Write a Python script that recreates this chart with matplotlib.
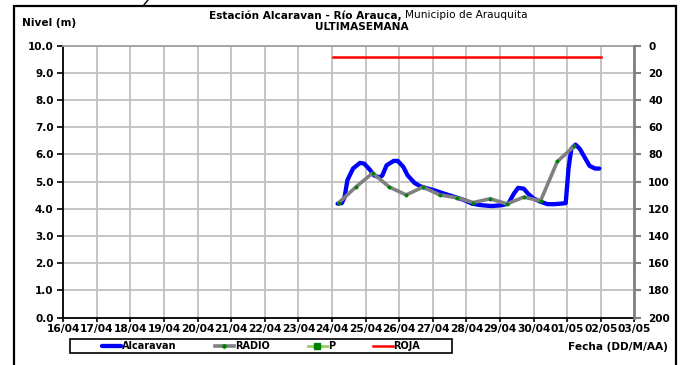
import matplotlib
matplotlib.use("Agg")
import matplotlib.pyplot as plt
import matplotlib.dates as mdates
import pandas as pd
from matplotlib.patches import Rectangle
from matplotlib.lines import Line2D

# Estacion Alcaravan (sensor), nivel en metros
alc_fechas = ["2024-04-24 04:00", "2024-04-24 07:00", "2024-04-24 09:00", "2024-04-24 11:00",
              "2024-04-24 15:00", "2024-04-24 20:00", "2024-04-24 23:00", "2024-04-25 03:00",
              "2024-04-25 06:00", "2024-04-25 10:00", "2024-04-25 12:00", "2024-04-25 15:00",
              "2024-04-25 20:00", "2024-04-25 23:00", "2024-04-26 03:00", "2024-04-26 06:00",
              "2024-04-26 11:00", "2024-04-26 15:00", "2024-04-26 18:00", "2024-04-27 01:00",
              "2024-04-27 08:00", "2024-04-27 16:00", "2024-04-27 23:00", "2024-04-28 04:00",
              "2024-04-28 11:00", "2024-04-28 18:00", "2024-04-29 01:00", "2024-04-29 06:00",
              "2024-04-29 10:00", "2024-04-29 13:00", "2024-04-29 17:00", "2024-04-29 20:00",
              "2024-04-30 00:00", "2024-04-30 05:00", "2024-04-30 10:00", "2024-04-30 15:00",
              "2024-04-30 20:00", "2024-04-30 23:00", "2024-05-01 01:00", "2024-05-01 03:00",
              "2024-05-01 06:00", "2024-05-01 09:00", "2024-05-01 13:00", "2024-05-01 16:00",
              "2024-05-01 20:00", "2024-05-01 23:00"]
alc_nivel = [4.19, 4.21, 4.43, 5.05, 5.48, 5.69, 5.66, 5.44,
             5.23, 5.15, 5.23, 5.60, 5.76, 5.76, 5.54, 5.23,
             4.95, 4.83, 4.78, 4.68, 4.56, 4.43, 4.31, 4.19,
             4.13, 4.10, 4.13, 4.19, 4.56, 4.77, 4.74, 4.56,
             4.38, 4.26, 4.17, 4.17, 4.19, 4.21, 5.48, 6.21,
             6.36, 6.21, 5.85, 5.58, 5.48, 5.48]

# lecturas por radio (6 am / 6 pm aprox)
radio_fechas = ["2024-04-24 05:00", "2024-04-24 17:00", "2024-04-25 05:00", "2024-04-25 17:00",
                "2024-04-26 05:00", "2024-04-26 17:00", "2024-04-27 05:00", "2024-04-27 17:00",
                "2024-04-28 05:00", "2024-04-28 17:00", "2024-04-29 05:00", "2024-04-29 17:00",
                "2024-04-30 05:00", "2024-04-30 17:00", "2024-05-01 05:00"]
radio_nivel = [4.23, 4.80, 5.31, 4.80, 4.51, 4.80, 4.51, 4.41,
               4.23, 4.37, 4.18, 4.43, 4.29, 5.74, 6.30]

p_fechas = []
p_nivel = []

roja_fechas = ["2024-04-24 01:00", "2024-05-02 00:00"]
roja_nivel = [9.6, 9.6]

fechas_lim = ["2024-04-16", "2024-05-03"]

plt.rcParams['font.family'] = ['DejaVu Sans']
plt.rcParams['font.weight'] = 'bold'

W, H = 681, 365
fig = plt.figure(figsize=(W / 100, H / 100), dpi=100)
x0, x1, ytop, ybot = 63.3, 634.3, 45.7, 317.5
ax = fig.add_axes([x0 / W, 1 - ybot / H, (x1 - x0) / W, (ybot - ytop) / H])

ax.plot(pd.to_datetime(alc_fechas), alc_nivel, color='#0000ff', lw=3.1,
        solid_joinstyle='round', solid_capstyle='round', zorder=3, label='Alcaravan')
ax.plot(pd.to_datetime(p_fechas), p_nivel, color='#99cc66', lw=2, marker='s', ms=3,
        mfc='#008000', mec='#008000', zorder=3.5, label='P')
ax.plot(pd.to_datetime(radio_fechas), radio_nivel, color='#808080', lw=2.6,
        marker='o', ms=1.8, mfc='#008000', mec='#008000',
        solid_joinstyle='round', zorder=4, label='RADIO')
ax.plot(pd.to_datetime(roja_fechas), roja_nivel, color='#ff0000', lw=1.8, zorder=5, label='ROJA')

ax.set_xlim(pd.to_datetime(fechas_lim[0]), pd.to_datetime(fechas_lim[1]))
ax.set_ylim(0, 10)
ax.set_yticks(range(0, 11))
ax.yaxis.set_major_formatter(plt.FormatStrFormatter('%.1f'))
ax.xaxis.set_major_locator(mdates.DayLocator())
ax.xaxis.set_major_formatter(mdates.DateFormatter('%d/%m'))
ax.grid(True, color='#c0c0c0', lw=1.3, zorder=0)
ax.set_axisbelow(True)
ax.tick_params(axis='y', direction='out', length=4, width=1.2, labelsize=7.5, pad=3)
ax.tick_params(axis='x', direction='out', length=3, width=1.2, labelsize=7.7, pad=2)
ax.spines['left'].set_linewidth(1.3)
ax.spines['bottom'].set_linewidth(1.3)
ax.spines['top'].set_color('#a0a0a0')
ax.spines['top'].set_linewidth(1.3)
ax.spines['right'].set_visible(False)

ax2 = ax.twinx()
ax2.set_ylim(200, 0)
ax2.set_yticks(range(0, 201, 20))
ax2.tick_params(axis='y', direction='out', length=5, width=1.5, color='#808080',
                labelsize=7.5, pad=5)
for s in ['left', 'top', 'bottom']:
    ax2.spines[s].set_visible(False)
ax2.spines['right'].set_color('#808080')
ax2.spines['right'].set_linewidth(2)

# titulos
fig.text(402 / W, 1 - 15.5 / H, "Estación Alcaravan - Río Arauca,", ha='right', va='center',
         fontsize=7.6, fontweight='bold')
fig.text(405 / W, 1 - 15.5 / H, "Municipio de Arauquita", ha='left', va='center',
         fontsize=7.6, fontweight='normal')
fig.text(362 / W, 1 - 27 / H, "ULTIMASEMANA", ha='center', va='center', fontsize=7.6)
fig.text(22 / W, 1 - 23.5 / H, "Nivel (m)", ha='left', va='center', fontsize=7.6)
fig.text(668 / W, 1 - 347 / H, "Fecha (DD/M/AA)", ha='right', va='center', fontsize=7.6)

# leyenda
handles, labels = ax.get_legend_handles_labels()
orden = ['Alcaravan', 'RADIO', 'P', 'ROJA']
hs = [handles[labels.index(n)] for n in orden]
ax.legend(hs, orden, ncol=4, frameon=False, loc='center',
          bbox_to_anchor=(261 / W, 1 - 346 / H), bbox_transform=fig.transFigure,
          fontsize=7, handlelength=2.0, handletextpad=0.1, columnspacing=3.9,
          borderpad=0, markerscale=1.3)
fig.patches.append(Rectangle((70 / W, 1 - 353 / H), 382 / W, 14 / H, transform=fig.transFigure,
                             fill=False, ec='black', lw=1.2))

# marco exterior
fig.patches.append(Rectangle((14 / W, -0.05), 662 / W, 1.05 - 6 / H, transform=fig.transFigure,
                             fill=False, ec='black', lw=1.6))
fig.add_artist(Line2D([143 / W, 148 / W], [1 - 6 / H, 1.0], color='black', lw=1))

fig.savefig('out.png', dpi=100)
